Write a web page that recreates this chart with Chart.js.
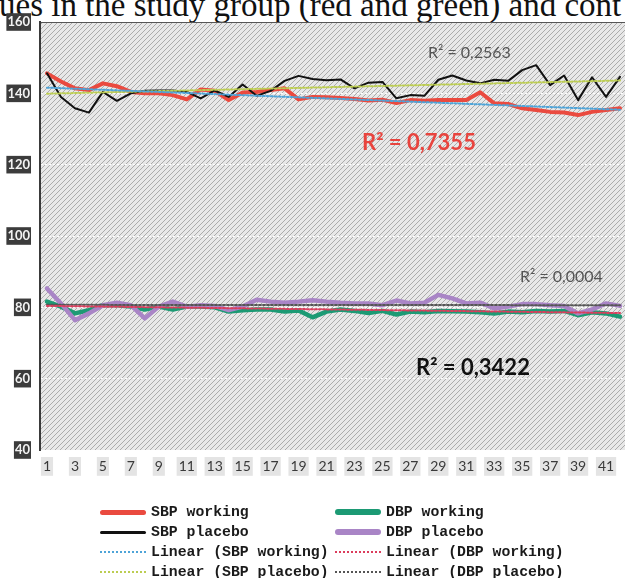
<!DOCTYPE html>
<html>
<head>
  <meta charset="utf-8">
  <title>SBP / DBP por día</title>
  <script src="https://cdn.jsdelivr.net/npm/chart.js"></script>
  <style>
    html, body {
      margin: 0;
      padding: 0;
      overflow: hidden;
      background: #fff;
    }
    body {
      width: 625px;
      height: 578px;
      position: relative;
      font-family: Lato, 'Open Sans', sans-serif;
    }
    #graficaPresion {
      position: absolute;
      left: 0;
      top: 0;
    }
    .caption {
      position: absolute;
      left: -1px;
      top: -11px;
      font-family: 'Liberation Serif', serif;
      font-size: 33px;
      line-height: 33px;
      white-space: nowrap;
      color: #111;
    }
    .r2 {
      position: absolute;
      white-space: nowrap;
      line-height: 1;
    }
    .r2.gris { color: #555; font-size: 16px; }
    .r2.grande { font-size: 22px; font-weight: bold; }
    .leyenda {
      position: absolute;
      left: 100px;
      top: 502px;
      display: grid;
      grid-template-columns: 235px auto;
      grid-auto-rows: 20px;
      font-family: 'Liberation Mono', monospace;
      font-size: 14.8px;
      font-weight: bold;
      color: #1a1a1a;
    }
    .leyenda .item {
      display: flex;
      align-items: center;
      white-space: nowrap;
    }
    .leyenda .muestra {
      display: inline-block;
      width: 46px;
      margin-right: 5px;
    }
  </style>
</head>
<body>
  <div class="caption">ues in the study group (red and green) and cont</div>
  <canvas id="graficaPresion" width="630" height="578"></canvas>

  <div class="r2 gris" style="left:428px; top:44px;">R² = 0,2563</div>
  <div class="r2 grande" style="left:362px; top:131px; color:#e8443e;">R² = 0,7355</div>
  <div class="r2 gris" style="left:520px; top:268px;">R² = 0,0004</div>
  <div class="r2 grande" style="left:416px; top:356px; color:#111;">R² = 0,3422</div>

  <div id="leyenda" class="leyenda"></div>

  <script>
    // dias del estudio
    const dias = ['1', '2', '3', '4', '5', '6', '7', '8', '9', '10',
                  '11', '12', '13', '14', '15', '16', '17', '18', '19', '20',
                  '21', '22', '23', '24', '25', '26', '27', '28', '29', '30',
                  '31', '32', '33', '34', '35', '36', '37', '38', '39', '40',
                  '41', '42'];

    // valores (mmHg)
    const sbpWorking = [145.6, 143.3, 141.4, 140.9, 142.8, 142.0, 140.4, 140.0, 140.0, 139.5,
                        138.3, 141.1, 140.7, 138.1, 140.2, 140.4, 140.9, 141.4, 138.3, 139.0,
                        138.9, 138.7, 138.4, 138.0, 138.2, 137.3, 138.1, 137.9, 138.1, 138.1,
                        138.1, 140.3, 137.2, 137.0, 135.8, 135.3, 134.8, 134.6, 133.9, 134.8,
                        135.3, 135.8];
    const sbpPlacebo = [145.6, 139.0, 135.8, 134.6, 140.4, 137.9, 140.0, 140.7, 140.8, 140.8,
                        140.4, 138.6, 140.8, 139.0, 142.5, 139.3, 140.7, 143.5, 144.9, 144.0,
                        143.7, 143.9, 141.4, 143.0, 143.2, 138.6, 139.5, 139.3, 143.8, 145.0,
                        143.6, 142.8, 143.8, 143.5, 146.5, 147.9, 142.3, 145.0, 138.1, 144.5,
                        139.0, 144.6];
    const dbpWorking = [81.6, 80.2, 78.3, 79.2, 80.6, 80.6, 80.2, 79.4, 80.2, 79.4,
                        80.2, 80.2, 80.0, 78.8, 79.2, 79.4, 79.4, 78.8, 79.1, 77.2,
                        78.8, 79.4, 79.0, 78.4, 79.0, 78.0, 78.8, 78.6, 79.0, 78.9,
                        78.8, 78.6, 78.3, 78.8, 78.6, 79.0, 78.8, 79.0, 77.8, 78.6,
                        78.3, 77.4];
    const dbpPlacebo = [85.3, 81.1, 76.4, 78.3, 80.6, 81.3, 80.6, 76.9, 80.2, 81.6,
                        80.2, 80.6, 80.4, 79.2, 80.2, 82.1, 81.6, 81.3, 81.6, 82.0,
                        81.6, 81.3, 81.1, 81.1, 80.6, 81.9, 81.1, 81.3, 83.5, 82.5,
                        81.1, 81.3, 79.7, 80.2, 80.9, 80.9, 80.6, 80.4, 78.3, 79.4,
                        81.1, 80.4];

    // lineas de tendencia: valor en el primer y el ultimo dia
    const trendSbpWorking = [141.6, 135.4];
    const trendSbpPlacebo = [139.9, 143.6];
    const trendDbpWorking = [80.4, 78.4];
    const trendDbpPlacebo = [80.7, 80.6];

    const yMin = 40;
    const yMax = 160;
    const yPaso = 20;

    // orden de la leyenda (por filas, dos columnas)
    const ordenLeyenda = [0, 2, 1, 3, 4, 6, 5, 7];

    function tendencia(extremos) {
      return [
        { x: dias[0], y: extremos[0] },
        { x: dias[dias.length - 1], y: extremos[1] }
      ];
    }

    // fondo rayado del area del grafico
    const fondoRayado = {
      id: 'fondoRayado',
      beforeDraw(chart) {
        const { ctx, chartArea: a } = chart;
        const tile = document.createElement('canvas');
        tile.width = 5;
        tile.height = 5;
        const t = tile.getContext('2d');
        t.fillStyle = '#e8e8e8';
        t.fillRect(0, 0, 5, 5);
        t.strokeStyle = '#ababab';
        t.lineWidth = 1;
        t.beginPath();
        t.moveTo(0, 5); t.lineTo(5, 0);
        t.moveTo(-1, 1); t.lineTo(1, -1);
        t.moveTo(4, 6); t.lineTo(6, 4);
        t.stroke();
        ctx.save();
        ctx.fillStyle = ctx.createPattern(tile, 'repeat');
        ctx.fillRect(a.left, a.top, a.right - a.left, a.bottom - a.top);
        ctx.restore();
      }
    };

    const ctx = document.getElementById('graficaPresion').getContext('2d');
    const grafica = new Chart(ctx, {
      type: 'line',
      data: {
        labels: dias,
        datasets: [
          { label: 'SBP working', data: sbpWorking, borderColor: '#ea4a3f', borderWidth: 4, order: 5 },
          { label: 'SBP placebo', data: sbpPlacebo, borderColor: '#111111', borderWidth: 2, order: 4 },
          { label: 'DBP working', data: dbpWorking, borderColor: '#1c9a74', borderWidth: 4.5, order: 3 },
          { label: 'DBP placebo', data: dbpPlacebo, borderColor: '#a985c6', borderWidth: 4.5, order: 2 },
          { label: 'Linear (SBP working)', data: tendencia(trendSbpWorking), borderColor: '#4ea4d8', borderWidth: 2, borderDash: [2, 2], order: 1 },
          { label: 'Linear (SBP placebo)', data: tendencia(trendSbpPlacebo), borderColor: '#bccd52', borderWidth: 2, borderDash: [2, 2], order: 1 },
          { label: 'Linear (DBP working)', data: tendencia(trendDbpWorking), borderColor: '#dc3d5c', borderWidth: 2, borderDash: [2, 2], order: 1 },
          { label: 'Linear (DBP placebo)', data: tendencia(trendDbpPlacebo), borderColor: '#555555', borderWidth: 2, borderDash: [2, 2], order: 1 }
        ]
      },
      options: {
        responsive: false,
        animation: false,
        layout: { padding: { top: 22, right: 3, left: 0, bottom: 0 } },
        elements: {
          point: { radius: 0 },
          line: { tension: 0, borderJoinStyle: 'round', borderCapStyle: 'round', fill: false }
        },
        plugins: {
          legend: { display: false },
          tooltip: { enabled: false }
        },
        scales: {
          x: {
            offset: true,
            afterFit: (scale) => { scale.height = 128; },
            grid: { display: false, drawTicks: false },
            border: { display: false },
            ticks: {
              autoSkip: false,
              maxRotation: 0,
              padding: 8,
              color: '#3a3a3a',
              font: { family: 'Lato', size: 14 },
              showLabelBackdrop: true,
              backdropPadding: { x: 2, y: 1 },
              backdropColor: (c) => (c.index % 2 === 0 ? '#e4e4e4' : 'rgba(0,0,0,0)'),
              callback: function (value, index) {
                return index % 2 === 0 ? this.getLabelForValue(value) : '';
              }
            }
          },
          y: {
            min: yMin,
            max: yMax,
            afterFit: (scale) => { scale.width = 40; },
            grid: {
              drawTicks: false,
              color: (c) => (c.tick && c.tick.value === yMax ? '#555' : 'rgba(255,255,255,0.95)'),
              lineWidth: 1
            },
            border: {
              display: true,
              color: '#3a3a3a',
              width: 2,
              dash: (c) => (c.tick && c.tick.value === yMax ? [] : [2, 2])
            },
            ticks: {
              stepSize: yPaso,
              padding: 10,
              color: '#f2f2f2',
              font: { family: 'Lato', size: 13, weight: 'bold' },
              showLabelBackdrop: true,
              backdropColor: '#3c3c3c',
              backdropPadding: { x: 1, y: 1 }
            }
          }
        }
      },
      plugins: [fondoRayado]
    });

    // leyenda en HTML a partir de los datasets
    const leyenda = document.getElementById('leyenda');
    ordenLeyenda.forEach((i) => {
      const ds = grafica.data.datasets[i];
      const item = document.createElement('div');
      item.className = 'item';
      const muestra = document.createElement('span');
      muestra.className = 'muestra';
      if (ds.borderDash) {
        muestra.style.borderTop = '2px dotted ' + ds.borderColor;
      } else {
        muestra.style.height = Math.round(ds.borderWidth + 1) + 'px';
        muestra.style.background = ds.borderColor;
        muestra.style.borderRadius = '3px';
      }
      const texto = document.createElement('span');
      texto.textContent = ds.label;
      item.appendChild(muestra);
      item.appendChild(texto);
      leyenda.appendChild(item);
    });
  </script>
</body>
</html>
